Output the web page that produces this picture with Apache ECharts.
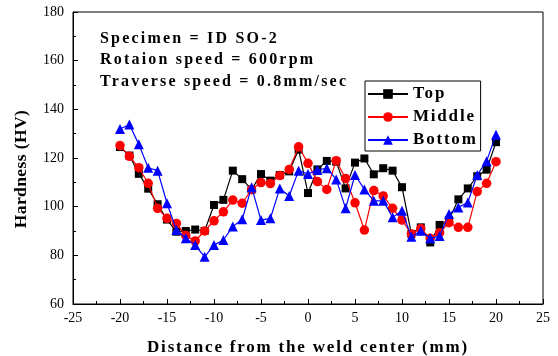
<!DOCTYPE html>
<html>
<head>
<meta charset="utf-8">
<script src="https://cdn.jsdelivr.net/npm/echarts@6/dist/echarts.min.js"></script>
<style>
html,body{margin:0;padding:0;background:#fff;}
#chart{width:558px;height:356px;}
</style>
</head>
<body>
<div id="chart"></div>
<script>
// ---- data ----
const distances = [-20,-19,-18,-17,-16,-15,-14,-13,-12,-11,-10,-9,-8,-7,-6,-5,-4,-3,-2,-1,0,1,2,3,4,5,6,7,8,9,10,11,12,13,14,15,16,17,18,19,20];
const topHardness = [124.5,121,113.5,107.4,101,94.7,89.7,90,90.6,90,100.7,102.8,114.8,111.3,107,113.4,110.7,113,114.5,123.4,105.6,115.3,118.8,118.5,107.5,118.1,119.8,113.3,115.8,114.8,108,88.8,91.5,85.3,92.5,94.5,103,107.5,112.5,115.2,126.5];
const middleHardness = [125.1,120.7,116,109.6,99.3,95.2,93.1,88.1,85.9,90,94.2,97.9,102.7,101.4,107,109.9,109.5,112.8,115.3,124.6,117.8,110.3,107.1,118.9,111.6,101.6,90.4,106.6,104.4,99.3,94.5,88.8,91,87,89.3,93.4,91.5,91.5,106.2,109.6,118.5];
const bottomHardness = [131.9,133.8,125.6,116,114.8,101.4,90.4,87,84.2,79.4,84.2,86.3,91.8,94.8,108,94.5,95.2,107.5,104.4,114.8,113.4,115.1,115.8,111.2,99.3,113,107.1,102.4,102.4,95.6,98.3,87.6,90.1,87,87.9,97,99.7,101.7,113,118.7,129.6];
const seriesNames = ['Top','Middle','Bottom'];
const annotations = ['Specimen = ID SO-2','Rotaion speed = 600rpm','Traverse speed = 0.8mm/sec'];
const xTitle = 'Distance from the weld center (mm)';
const yTitle = 'Hardness (HV)';

// letter spacing for the bold serif texts of the original figure
(function(){
  const P = CanvasRenderingContext2D.prototype;
  if (!('letterSpacing' in P)) return;
  const spacingFor = function(f){
    if (!/bold|700/.test(f)) return '0px';
    const m = f.match(/([\d.]+)px/);
    const s = m ? parseFloat(m[1]) : 0;
    if (s === 16) return '2.2px';
    if (s === 17) return '1.8px';
    if (s === 17.5) return '0.4px';
    return '0px';
  };
  ['fillText','strokeText','measureText'].forEach(function(n){
    const o = P[n];
    P[n] = function(){ this.letterSpacing = spacingFor(this.font); return o.apply(this, arguments); };
  });
})();

const FONT = '"Liberation Serif", "Times New Roman", serif';
const pair = arr => distances.map((d, i) => [d, arr[i]]);

const chart = echarts.init(document.getElementById('chart'), null, {renderer: 'canvas'});
chart.setOption({
  animation: false,
  backgroundColor: '#fff',
  grid: {left: 73, right: 15, top: 12, bottom: 52, outerBoundsMode: 'none', containLabel: false,
         show: true, borderColor: '#000', borderWidth: 1, backgroundColor: 'transparent'},
  xAxis: {
    type: 'value', min: -25, max: 25, interval: 5,
    name: xTitle, nameLocation: 'middle', nameGap: 34,
    nameTextStyle: {fontFamily: FONT, fontWeight: 'bold', fontSize: 17, color: '#000'},
    axisLine: {show: true, onZero: false, lineStyle: {color: '#000', width: 1}},
    axisTick: {show: true, inside: true, length: 5, lineStyle: {color: '#000'}},
    minorTick: {show: true, splitNumber: 2, length: 3, lineStyle: {color: '#000'}},
    axisLabel: {fontFamily: FONT, fontSize: 14, color: '#000', margin: 7},
    splitLine: {show: false}
  },
  yAxis: {
    type: 'value', min: 60, max: 180, interval: 20,
    name: yTitle, nameLocation: 'middle', nameGap: 42, nameRotate: 90,
    nameTextStyle: {fontFamily: FONT, fontWeight: 'bold', fontSize: 17.5, color: '#000', padding: [0, 22, 0, 0]},
    axisLine: {show: true, onZero: false, lineStyle: {color: '#000', width: 1}},
    axisTick: {show: true, inside: true, length: 5, lineStyle: {color: '#000'}},
    minorTick: {show: true, splitNumber: 2, length: 3, lineStyle: {color: '#000'}},
    axisLabel: {fontFamily: FONT, fontSize: 14, color: '#000', margin: 9},
    splitLine: {show: false}
  },
  legend: {
    orient: 'vertical', left: 365, top: 81,
    data: seriesNames,
    itemWidth: 40, itemHeight: 12, itemGap: 3,
    padding: [3, 3, 1, 2],
    borderColor: '#000', borderWidth: 1,
    textStyle: {fontFamily: FONT, fontWeight: 'bold', fontSize: 17, color: '#000', lineHeight: 20}
  },
  graphic: annotations.map((t, i) => ({
    type: 'text', x: 100, y: 38.5 + i * 21.8, z: 10,
    style: {text: t, font: 'bold 16px "Liberation Serif"', fill: '#000',
            align: 'left', verticalAlign: 'middle', textAlign: 'left', textVerticalAlign: 'middle'}
  })),
  series: [
    {name: seriesNames[0], type: 'line', data: pair(topHardness), symbol: 'rect', symbolSize: 8,
     itemStyle: {color: '#000'}, lineStyle: {color: '#000', width: 1.2}, z: 2},
    {name: seriesNames[1], type: 'line', data: pair(middleHardness), symbol: 'circle', symbolSize: 9.5,
     itemStyle: {color: '#ff0000'}, lineStyle: {color: '#ff0000', width: 1.2}, z: 3},
    {name: seriesNames[2], type: 'line', data: pair(bottomHardness), symbol: 'triangle', symbolSize: 10,
     itemStyle: {color: '#0000ff'}, lineStyle: {color: '#0000ff', width: 1.2}, z: 4}
  ]
});
</script>
</body>
</html>
